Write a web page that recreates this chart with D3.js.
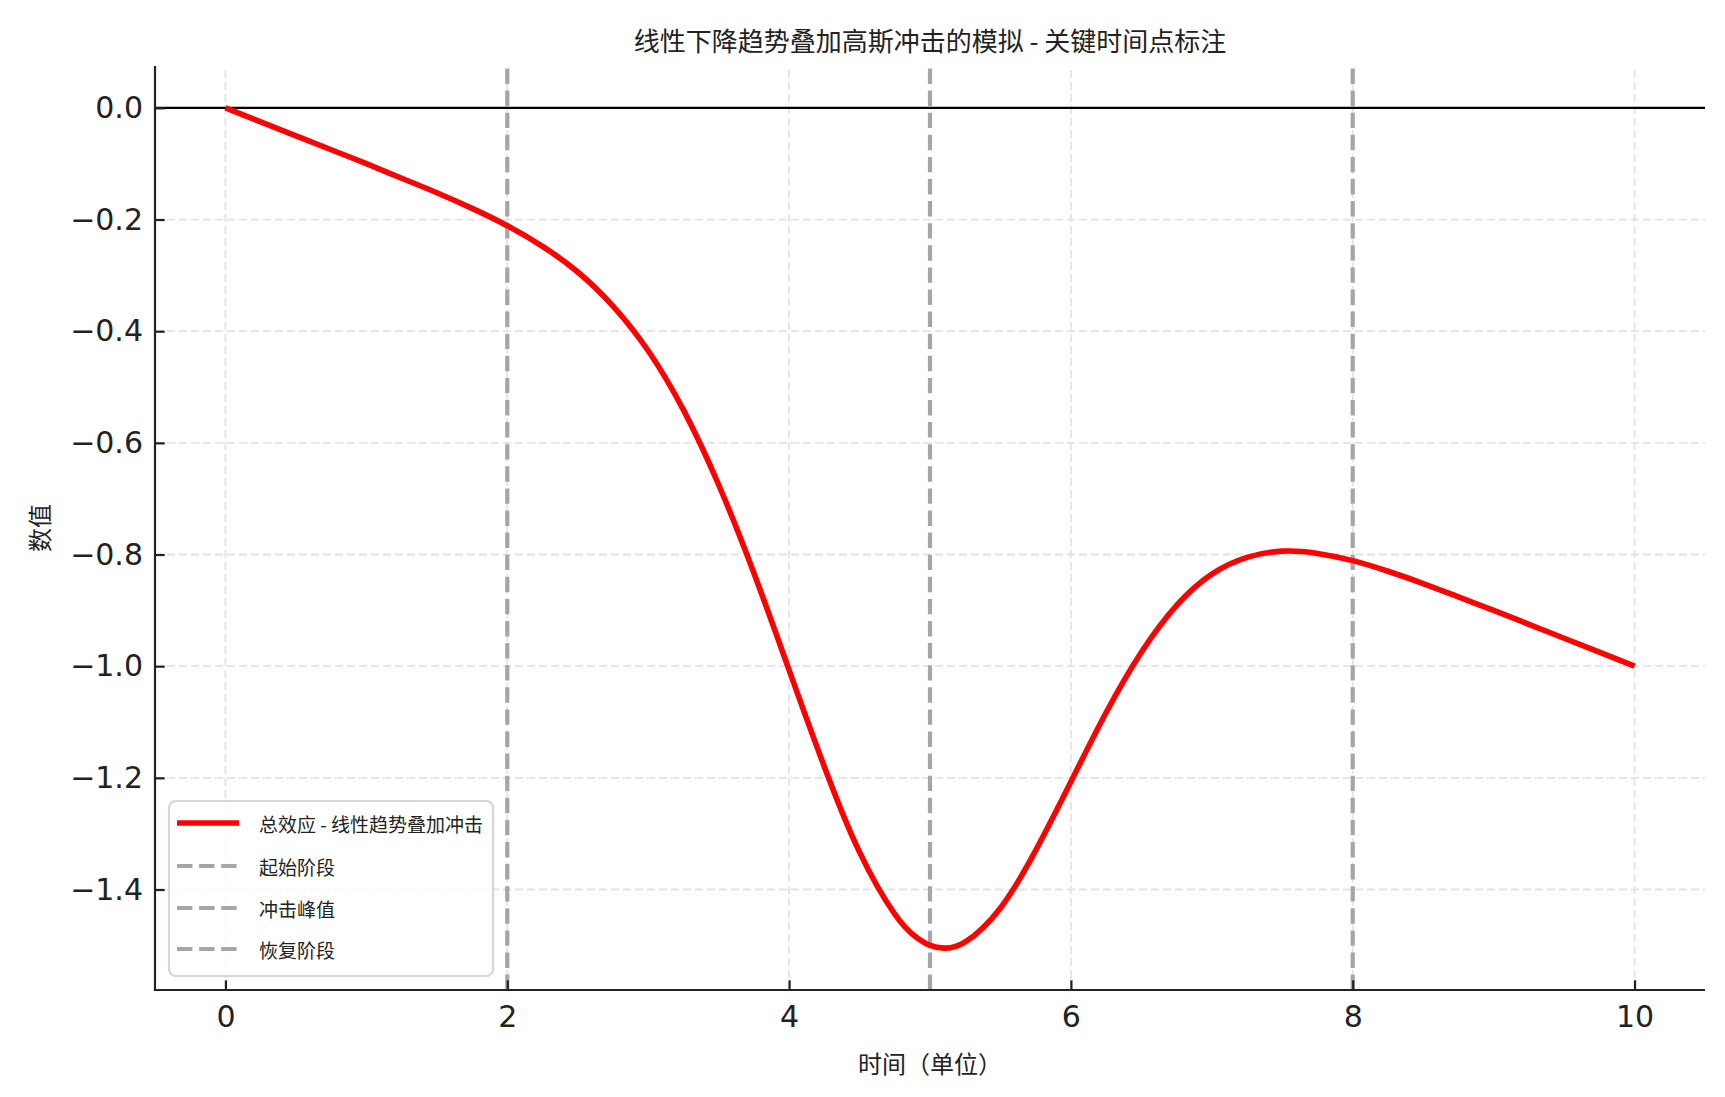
<!DOCTYPE html>
<html>
<head>
<meta charset="utf-8">
<script src="https://cdn.jsdelivr.net/npm/d3@7"></script>
<style>
  html, body { margin: 0; padding: 0; background: #fff; }
  svg { display: block; }
</style>
</head>
<body>
<svg id="chart" width="1725" height="1097"></svg>
<script>
// ---------- data ----------
const xValues = [0, 0.25, 0.5, 0.75, 1, 1.25, 1.5, 1.75, 2, 2.25, 2.5, 2.75, 3, 3.25, 3.5, 3.75,
  4, 4.25, 4.5, 4.75, 4.9, 5, 5.1, 5.25, 5.5, 5.75, 6, 6.25, 6.5, 6.75, 7, 7.25, 7.5, 7.75,
  8, 8.25, 8.5, 8.75, 9, 9.25, 9.5, 9.75, 10];
const yValues = [0.000, -0.025, -0.050, -0.075, -0.100, -0.126, -0.152, -0.180, -0.211, -0.248,
  -0.294, -0.355, -0.435, -0.541, -0.675, -0.833, -1.007, -1.180, -1.333, -1.444,
  -1.485, -1.500, -1.505, -1.494, -1.433, -1.330, -1.207, -1.083, -0.975, -0.891, -0.835, -0.805,
  -0.794, -0.798, -0.811, -0.830, -0.852, -0.876, -0.900, -0.925, -0.950, -0.975, -1.000];
const eventX = [2, 5, 8];
const eventLabels = ["起始阶段", "冲击峰值", "恢复阶段"];
const seriesLabel = "总效应 - 线性趋势叠加冲击";
const xTicks = [0, 2, 4, 6, 8, 10];
const yTicks = [0, -0.2, -0.4, -0.6, -0.8, -1.0, -1.2, -1.4];
const titleText = "线性下降趋势叠加高斯冲击的模拟 - 关键时间点标注";
const xLabelText = "时间（单位）";
const yLabelText = "数值";

// ---------- layout ----------
const W = 1725, H = 1097;
const L = 155, R = 1705, T = 66, B = 990;
const svg = d3.select("#chart");
const latin = "'DejaVu Sans', sans-serif";
const cjk = "'Noto Sans CJK SC', 'DejaVu Sans', sans-serif";

const x = d3.scaleLinear().domain([-0.5, 10.5]).range([L, R]);
const y = d3.scaleLinear().domain([-1.58, 0.075]).range([B, T]);

// grid
const grid = svg.append("g");
grid.selectAll("line.gx").data(xTicks).join("line")
  .attr("x1", d => x(d)).attr("x2", d => x(d))
  .attr("y1", B).attr("y2", T)
  .attr("stroke", "#e3e3e3").attr("stroke-width", 1.8).attr("stroke-dasharray", "8,4");
grid.selectAll("line.gy").data(yTicks).join("line")
  .attr("x1", L).attr("x2", R)
  .attr("y1", d => y(d)).attr("y2", d => y(d))
  .attr("stroke", "#e3e3e3").attr("stroke-width", 1.8).attr("stroke-dasharray", "8,4");

// event lines
svg.append("g").selectAll("line").data(eventX).join("line")
  .attr("x1", d => x(d)).attr("x2", d => x(d))
  .attr("y1", B).attr("y2", T)
  .attr("stroke", "#a6a6a6").attr("stroke-width", 4.2).attr("stroke-dasharray", "15.4,6.7");

// zero line
svg.append("line")
  .attr("x1", L).attr("x2", R).attr("y1", y(0)).attr("y2", y(0))
  .attr("stroke", "#000").attr("stroke-width", 2.2);

// curve
const pts = xValues.map((d, i) => [d, yValues[i]]);
svg.append("path")
  .datum(pts)
  .attr("fill", "none")
  .attr("stroke", "#ff0000")
  .attr("stroke-width", 5.6)
  .attr("stroke-linejoin", "round")
  .attr("d", d3.line().x(d => x(d[0])).y(d => y(d[1])).curve(d3.curveNatural));

// axes
const fmtY = d => (d === 0 ? "0.0" : d3.format(".1f")(d).replace("-", "\u2212"));
const xAxis = svg.append("g").attr("transform", `translate(0,${B})`)
  .call(d3.axisBottom(x).tickValues(xTicks).tickSize(-9.7).tickPadding(16).tickFormat(d3.format("d")));
const yAxis = svg.append("g").attr("transform", `translate(${L},0)`)
  .call(d3.axisLeft(y).tickValues(yTicks).tickSize(-9.7).tickPadding(12).tickFormat(fmtY));
[xAxis, yAxis].forEach(g => {
  g.select(".domain").remove();
  g.selectAll(".tick line").attr("stroke", "#222").attr("stroke-width", 2.2);
  g.selectAll(".tick text").attr("fill", "#222").style("font-family", latin).style("font-size", "30px");
});
xAxis.selectAll(".tick text").attr("dy", "0.71em");
// spines (left + bottom)
svg.append("line").attr("x1", L).attr("x2", L).attr("y1", T).attr("y2", B + 1.1)
  .attr("stroke", "#222").attr("stroke-width", 2.2);
svg.append("line").attr("x1", L - 1.1).attr("x2", R).attr("y1", B).attr("y2", B)
  .attr("stroke", "#222").attr("stroke-width", 2.2);

// title & labels
svg.append("text").attr("x", (L + R) / 2).attr("y", 39).attr("text-anchor", "middle")
  .attr("dominant-baseline", "central").attr("fill", "#222")
  .style("font-family", cjk).style("font-size", "26px").text(titleText);
svg.append("text").attr("x", (L + R) / 2).attr("y", 1062).attr("text-anchor", "middle")
  .attr("dominant-baseline", "central").attr("fill", "#222")
  .style("font-family", cjk).style("font-size", "24px").text(xLabelText);
svg.append("text").attr("transform", `translate(38,${(T + B) / 2}) rotate(-90)`)
  .attr("text-anchor", "middle").attr("dominant-baseline", "central").attr("fill", "#222")
  .style("font-family", cjk).style("font-size", "24px").text(yLabelText);

// legend
const legendItems = [{label: seriesLabel, type: "line"}].concat(eventLabels.map(l => ({label: l, type: "dash"})));
const lg = svg.append("g");
const box = lg.append("rect")
  .attr("x", 169).attr("y", 801).attr("rx", 7).attr("ry", 7)
  .attr("fill", "#fff").attr("fill-opacity", 0.8)
  .attr("stroke", "#d6d6d6").attr("stroke-width", 2.2);
const rowY = [823, 866, 908, 949];
let maxRight = 0;
legendItems.forEach((it, i) => {
  const yy = rowY[i];
  lg.append("line").attr("x1", 177).attr("x2", 239).attr("y1", yy).attr("y2", yy)
    .attr("stroke", it.type === "line" ? "#ff0000" : "#a6a6a6")
    .attr("stroke-width", it.type === "line" ? 5.6 : 4.2)
    .attr("stroke-dasharray", it.type === "line" ? null : "15.4,6.7");
  const t = lg.append("text").attr("x", 259).attr("y", yy).attr("dominant-baseline", "central")
    .attr("fill", "#222").style("font-family", cjk).style("font-size", "19px").text(it.label);
  const bb = t.node().getBBox();
  maxRight = Math.max(maxRight, bb.x + bb.width);
});
box.attr("width", Math.max(463, maxRight + 10) - 169).attr("height", 976 - 801);
</script>
</body>
</html>
